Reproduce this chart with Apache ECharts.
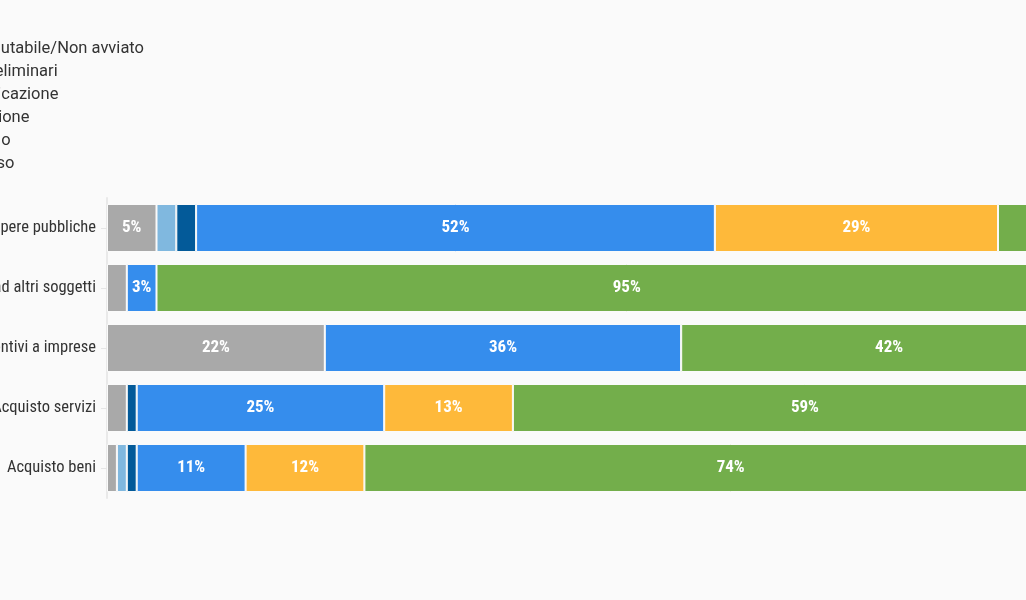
<!DOCTYPE html>
<html>
<head>
<meta charset="utf-8">
<script src="https://cdn.jsdelivr.net/npm/echarts@6/dist/echarts.min.js"></script>
<style>
  html, body { margin: 0; padding: 0; width: 1026px; height: 600px; overflow: hidden; background: #fafafa; }
  #chart { position: absolute; left: -100px; top: 0; width: 1226px; height: 600px; }
</style>
</head>
<body>
<div id="chart"></div>
<script>
// categories, top to bottom
const categories = [
  'Realizzazione opere pubbliche',
  'Contributi ad altri soggetti',
  'Incentivi a imprese',
  'Acquisto servizi',
  'Acquisto beni'
];

// project status, in stack order (left to right)
const statusNames = [
  'Non valutabile/Non avviato',
  'Fasi preliminari',
  'Aggiudicazione',
  'Esecuzione',
  'Collaudo',
  'Concluso'
];

// percent of projects per category, one array per status
const nonAvviato = [5, 2, 22, 2, 1];
const preliminari = [2, 0, 0, 0, 1];
const aggiudicazione = [2, 0, 0, 1, 1];
const esecuzione = [52.4, 3, 36, 25, 11];
const collaudo = [28.6, 0, 0, 13, 12];
const concluso = [10, 95, 42, 59, 74];

const statusValues = [nonAvviato, preliminari, aggiudicazione, esecuzione, collaudo, concluso];
const statusColors = ['#a9a9a9', '#80b8df', '#035a99', '#358ded', '#feb93a', '#73ae4b'];

const FONT = "'Roboto Condensed', 'Liberation Sans Narrow', 'Roboto', sans-serif";
const LEGEND_FONT = "Roboto, 'Noto Sans', sans-serif";
const TEXT_SIZE = 16.5;
const offsetLeft = 100;

// place legend so the first label ends where it does in the picture
let ctx = document.createElement('canvas').getContext('2d');
ctx.font = TEXT_SIZE + 'px ' + LEGEND_FONT;
let firstW = ctx.measureText(statusNames[0]).width;
let legendLeft = offsetLeft + 143 - firstW - 35;

let dom = document.getElementById('chart');
let myChart = echarts.init(dom, null, { renderer: 'canvas' });

let series = statusNames.map((name, i) => ({
  name: name,
  type: 'bar',
  stack: 'total',
  barCategoryGap: '20%',
  data: statusValues[i],
  itemStyle: { color: statusColors[i], borderColor: '#fafafa', borderWidth: 1 },
  label: {
    show: true,
    position: 'inside',
    color: '#fff',
    fontFamily: FONT,
    fontWeight: 'bold',
    fontSize: 17,
    formatter: p => (p.value >= 2.5 ? Math.round(p.value) + '%' : '')
  },
  emphasis: { disabled: true }
}));

let option = {
  backgroundColor: '#fafafa',
  animation: false,
  textStyle: { fontFamily: FONT },
  legend: {
    orient: 'vertical',
    left: legendLeft,
    top: 35,
    itemWidth: 25,
    itemHeight: 14,
    itemGap: 6,
    icon: 'rect',
    textStyle: { fontFamily: LEGEND_FONT, fontSize: TEXT_SIZE, color: '#333' },
    data: statusNames
  },
  grid: {
    left: offsetLeft + 107, width: 990, top: 198, height: 300,
    containLabel: false, outerBoundsMode: 'none'
  },
  xAxis: { type: 'value', min: 0, max: 100, show: false },
  yAxis: {
    type: 'category',
    data: categories,
    inverse: true,
    axisLine: { show: true, lineStyle: { color: '#e9e9e9', width: 2 } },
    axisTick: { show: true, alignWithLabel: true, length: 6, lineStyle: { color: '#e6e6e6' } },
    axisLabel: { margin: 11, color: '#333', fontFamily: FONT, fontSize: TEXT_SIZE }
  },
  series: series
};

myChart.setOption(option);
window.addEventListener('resize', myChart.resize);
</script>
</body>
</html>
